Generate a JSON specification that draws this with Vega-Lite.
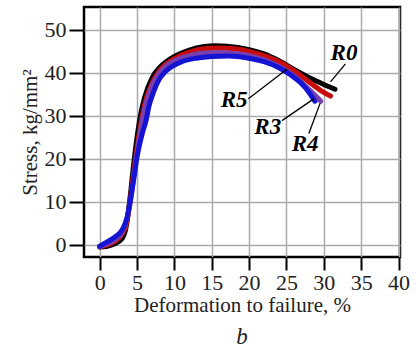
{
  "$schema": "https://vega.github.io/schema/vega-lite/v6.json",
  "width": 316,
  "height": 250,
  "autosize": "none",
  "padding": {"left": 84, "top": 7, "right": 16, "bottom": 92},
  "background": "white",
  "config": {
    "view": {"stroke": "black", "strokeWidth": 2.5},
    "font": "Liberation Serif"
  },
  "title": {"text": "b", "orient": "bottom", "fontStyle": "italic", "fontWeight": "normal", "fontSize": 23, "font": "Liberation Serif", "color": "#222", "offset": 11},
  "datasets": {
    "curves": [
      {"s": "R0", "o": 1, "x": 0, "y": -0.5}, {"s": "R0", "o": 1, "x": 1, "y": -0.3}, {"s": "R0", "o": 1, "x": 2, "y": 0.3}, {"s": "R0", "o": 1, "x": 3, "y": 1.5}, {"s": "R0", "o": 1, "x": 3.5, "y": 3.8}, {"s": "R0", "o": 1, "x": 4, "y": 10}, {"s": "R0", "o": 1, "x": 4.5, "y": 18}, {"s": "R0", "o": 1, "x": 5, "y": 25}, {"s": "R0", "o": 1, "x": 5.5, "y": 30.5}, {"s": "R0", "o": 1, "x": 6, "y": 34.2}, {"s": "R0", "o": 1, "x": 7, "y": 38.8}, {"s": "R0", "o": 1, "x": 8, "y": 41.2}, {"s": "R0", "o": 1, "x": 9, "y": 42.7}, {"s": "R0", "o": 1, "x": 10, "y": 43.8}, {"s": "R0", "o": 1, "x": 12, "y": 45.3}, {"s": "R0", "o": 1, "x": 14, "y": 46.1}, {"s": "R0", "o": 1, "x": 15.5, "y": 46.3}, {"s": "R0", "o": 1, "x": 17, "y": 46.2}, {"s": "R0", "o": 1, "x": 20, "y": 45.4}, {"s": "R0", "o": 1, "x": 22, "y": 44.4}, {"s": "R0", "o": 1, "x": 24, "y": 42.8}, {"s": "R0", "o": 1, "x": 26, "y": 40.8}, {"s": "R0", "o": 1, "x": 28, "y": 38.9}, {"s": "R0", "o": 1, "x": 30, "y": 37.3}, {"s": "R0", "o": 1, "x": 31.5, "y": 36.2},
      {"s": "R5", "o": 2, "x": 0, "y": -0.4}, {"s": "R5", "o": 2, "x": 1, "y": 0}, {"s": "R5", "o": 2, "x": 2, "y": 0.8}, {"s": "R5", "o": 2, "x": 3, "y": 2.5}, {"s": "R5", "o": 2, "x": 3.6, "y": 5}, {"s": "R5", "o": 2, "x": 4.2, "y": 12}, {"s": "R5", "o": 2, "x": 4.8, "y": 20}, {"s": "R5", "o": 2, "x": 5.4, "y": 27}, {"s": "R5", "o": 2, "x": 6, "y": 32.5}, {"s": "R5", "o": 2, "x": 7, "y": 37.5}, {"s": "R5", "o": 2, "x": 8, "y": 40.5}, {"s": "R5", "o": 2, "x": 9, "y": 42.2}, {"s": "R5", "o": 2, "x": 10, "y": 43.3}, {"s": "R5", "o": 2, "x": 12, "y": 44.8}, {"s": "R5", "o": 2, "x": 14, "y": 45.6}, {"s": "R5", "o": 2, "x": 16, "y": 45.8}, {"s": "R5", "o": 2, "x": 18, "y": 45.6}, {"s": "R5", "o": 2, "x": 20, "y": 45.0}, {"s": "R5", "o": 2, "x": 22, "y": 44.0}, {"s": "R5", "o": 2, "x": 24, "y": 42.6}, {"s": "R5", "o": 2, "x": 26, "y": 40.5}, {"s": "R5", "o": 2, "x": 28, "y": 37.9}, {"s": "R5", "o": 2, "x": 29.5, "y": 36}, {"s": "R5", "o": 2, "x": 30.9, "y": 34.6},
      {"s": "R4", "o": 3, "x": 0, "y": -0.4}, {"s": "R4", "o": 3, "x": 1, "y": 0.3}, {"s": "R4", "o": 3, "x": 2, "y": 1.2}, {"s": "R4", "o": 3, "x": 3, "y": 3}, {"s": "R4", "o": 3, "x": 3.7, "y": 6.5}, {"s": "R4", "o": 3, "x": 4.2, "y": 11}, {"s": "R4", "o": 3, "x": 4.8, "y": 19}, {"s": "R4", "o": 3, "x": 5.4, "y": 26}, {"s": "R4", "o": 3, "x": 6, "y": 31.5}, {"s": "R4", "o": 3, "x": 7, "y": 37}, {"s": "R4", "o": 3, "x": 8, "y": 40}, {"s": "R4", "o": 3, "x": 9, "y": 41.8}, {"s": "R4", "o": 3, "x": 10, "y": 42.8}, {"s": "R4", "o": 3, "x": 12, "y": 44}, {"s": "R4", "o": 3, "x": 14, "y": 44.6}, {"s": "R4", "o": 3, "x": 16, "y": 44.7}, {"s": "R4", "o": 3, "x": 18, "y": 44.5}, {"s": "R4", "o": 3, "x": 20, "y": 44}, {"s": "R4", "o": 3, "x": 22, "y": 43}, {"s": "R4", "o": 3, "x": 24, "y": 41.5}, {"s": "R4", "o": 3, "x": 26, "y": 39.3}, {"s": "R4", "o": 3, "x": 27.5, "y": 37}, {"s": "R4", "o": 3, "x": 28.7, "y": 35}, {"s": "R4", "o": 3, "x": 29.6, "y": 33.4},
      {"s": "R3", "o": 4, "x": 0, "y": -0.3}, {"s": "R3", "o": 4, "x": 1, "y": 0.7}, {"s": "R3", "o": 4, "x": 2, "y": 1.8}, {"s": "R3", "o": 4, "x": 3, "y": 3.5}, {"s": "R3", "o": 4, "x": 3.7, "y": 6.6}, {"s": "R3", "o": 4, "x": 4.1, "y": 10.4}, {"s": "R3", "o": 4, "x": 4.6, "y": 15.8}, {"s": "R3", "o": 4, "x": 5.0, "y": 20.4}, {"s": "R3", "o": 4, "x": 5.7, "y": 25.9}, {"s": "R3", "o": 4, "x": 6.2, "y": 28.9}, {"s": "R3", "o": 4, "x": 6.6, "y": 32.3}, {"s": "R3", "o": 4, "x": 7.2, "y": 35.5}, {"s": "R3", "o": 4, "x": 7.9, "y": 38.3}, {"s": "R3", "o": 4, "x": 8.8, "y": 40.3}, {"s": "R3", "o": 4, "x": 9.7, "y": 41.5}, {"s": "R3", "o": 4, "x": 11, "y": 42.6}, {"s": "R3", "o": 4, "x": 12.9, "y": 43.4}, {"s": "R3", "o": 4, "x": 15, "y": 43.8}, {"s": "R3", "o": 4, "x": 17.3, "y": 43.9}, {"s": "R3", "o": 4, "x": 20, "y": 43.4}, {"s": "R3", "o": 4, "x": 22, "y": 42.6}, {"s": "R3", "o": 4, "x": 24, "y": 41.2}, {"s": "R3", "o": 4, "x": 25.5, "y": 39.6}, {"s": "R3", "o": 4, "x": 27, "y": 37.5}, {"s": "R3", "o": 4, "x": 28, "y": 35.5}, {"s": "R3", "o": 4, "x": 28.8, "y": 33.4}
    ],
    "labels": [
      {"t": "R0", "x": 32.7, "y": 44.6},
      {"t": "R5", "x": 18.0, "y": 33.6},
      {"t": "R3", "x": 22.5, "y": 27.3},
      {"t": "R4", "x": 27.5, "y": 23.5}
    ],
    "leaders": [
      {"t": "R0", "x": 32.9, "y": 42.1, "x2": 30.9, "y2": 37.9},
      {"t": "R5", "x": 19.9, "y": 34.0, "x2": 25.1, "y2": 40.9},
      {"t": "R3", "x": 24.4, "y": 28.9, "x2": 28.7, "y2": 34.0},
      {"t": "R4", "x": 28.0, "y": 25.9, "x2": 29.5, "y2": 32.9}
    ]
  },
  "encoding": {
    "x": {
      "field": "x", "type": "quantitative",
      "scale": {"domain": [-2.1, 40.2], "nice": false, "zero": false},
      "axis": {
        "values": [0, 5, 10, 15, 20, 25, 30, 35, 40],
        "labelOverlap": false,
        "title": "Deformation to failure, %",
        "titleFont": "Liberation Serif", "titleFontSize": 21, "titleFontWeight": "normal", "titleColor": "#222", "titlePadding": 1,
        "labelFont": "Liberation Serif", "labelFontSize": 22, "labelColor": "#222", "labelPadding": 2, "labelFlush": false,
        "domain": false, "ticks": true, "tickSize": 13, "tickWidth": 2, "tickColor": "black",
        "grid": true, "gridColor": "#aaaaaa", "gridWidth": 1.5
      }
    },
    "y": {
      "field": "y", "type": "quantitative",
      "scale": {"domain": [-2.8, 55.3], "nice": false, "zero": false},
      "axis": {
        "values": [0, 10, 20, 30, 40, 50],
        "labelOverlap": false,
        "title": "Stress, kg/mm²",
        "titleFont": "Liberation Serif", "titleFontSize": 21, "titleFontWeight": "normal", "titleColor": "#222", "titlePadding": 4,
        "labelFont": "Liberation Serif", "labelFontSize": 22, "labelColor": "#222", "labelPadding": 3, "labelFlush": false,
        "domain": false, "ticks": true, "tickSize": 15, "tickWidth": 2, "tickColor": "black",
        "grid": true, "gridColor": "#aaaaaa", "gridWidth": 1.5
      }
    }
  },
  "layer": [
    {
      "data": {"name": "curves"},
      "mark": {"type": "line", "interpolate": "monotone", "strokeWidth": 5, "strokeCap": "round"},
      "encoding": {
        "color": {
          "field": "s", "type": "nominal", "legend": null,
          "scale": {"domain": ["R0", "R5", "R4", "R3"], "range": ["#000000", "#c80c0c", "#7a3fae", "#1414d2"]}
        },
        "order": {"field": "o"}
      }
    },
    {
      "data": {"name": "leaders"},
      "mark": {"type": "rule", "strokeWidth": 1.3, "color": "black"},
      "encoding": {
        "x2": {"field": "x2"},
        "y2": {"field": "y2"}
      }
    },
    {
      "data": {"name": "labels"},
      "mark": {"type": "text", "font": "Liberation Serif", "fontSize": 23, "fontWeight": "bold", "fontStyle": "italic", "color": "black", "align": "center", "baseline": "middle"},
      "encoding": {
        "text": {"field": "t"}
      }
    }
  ]
}
